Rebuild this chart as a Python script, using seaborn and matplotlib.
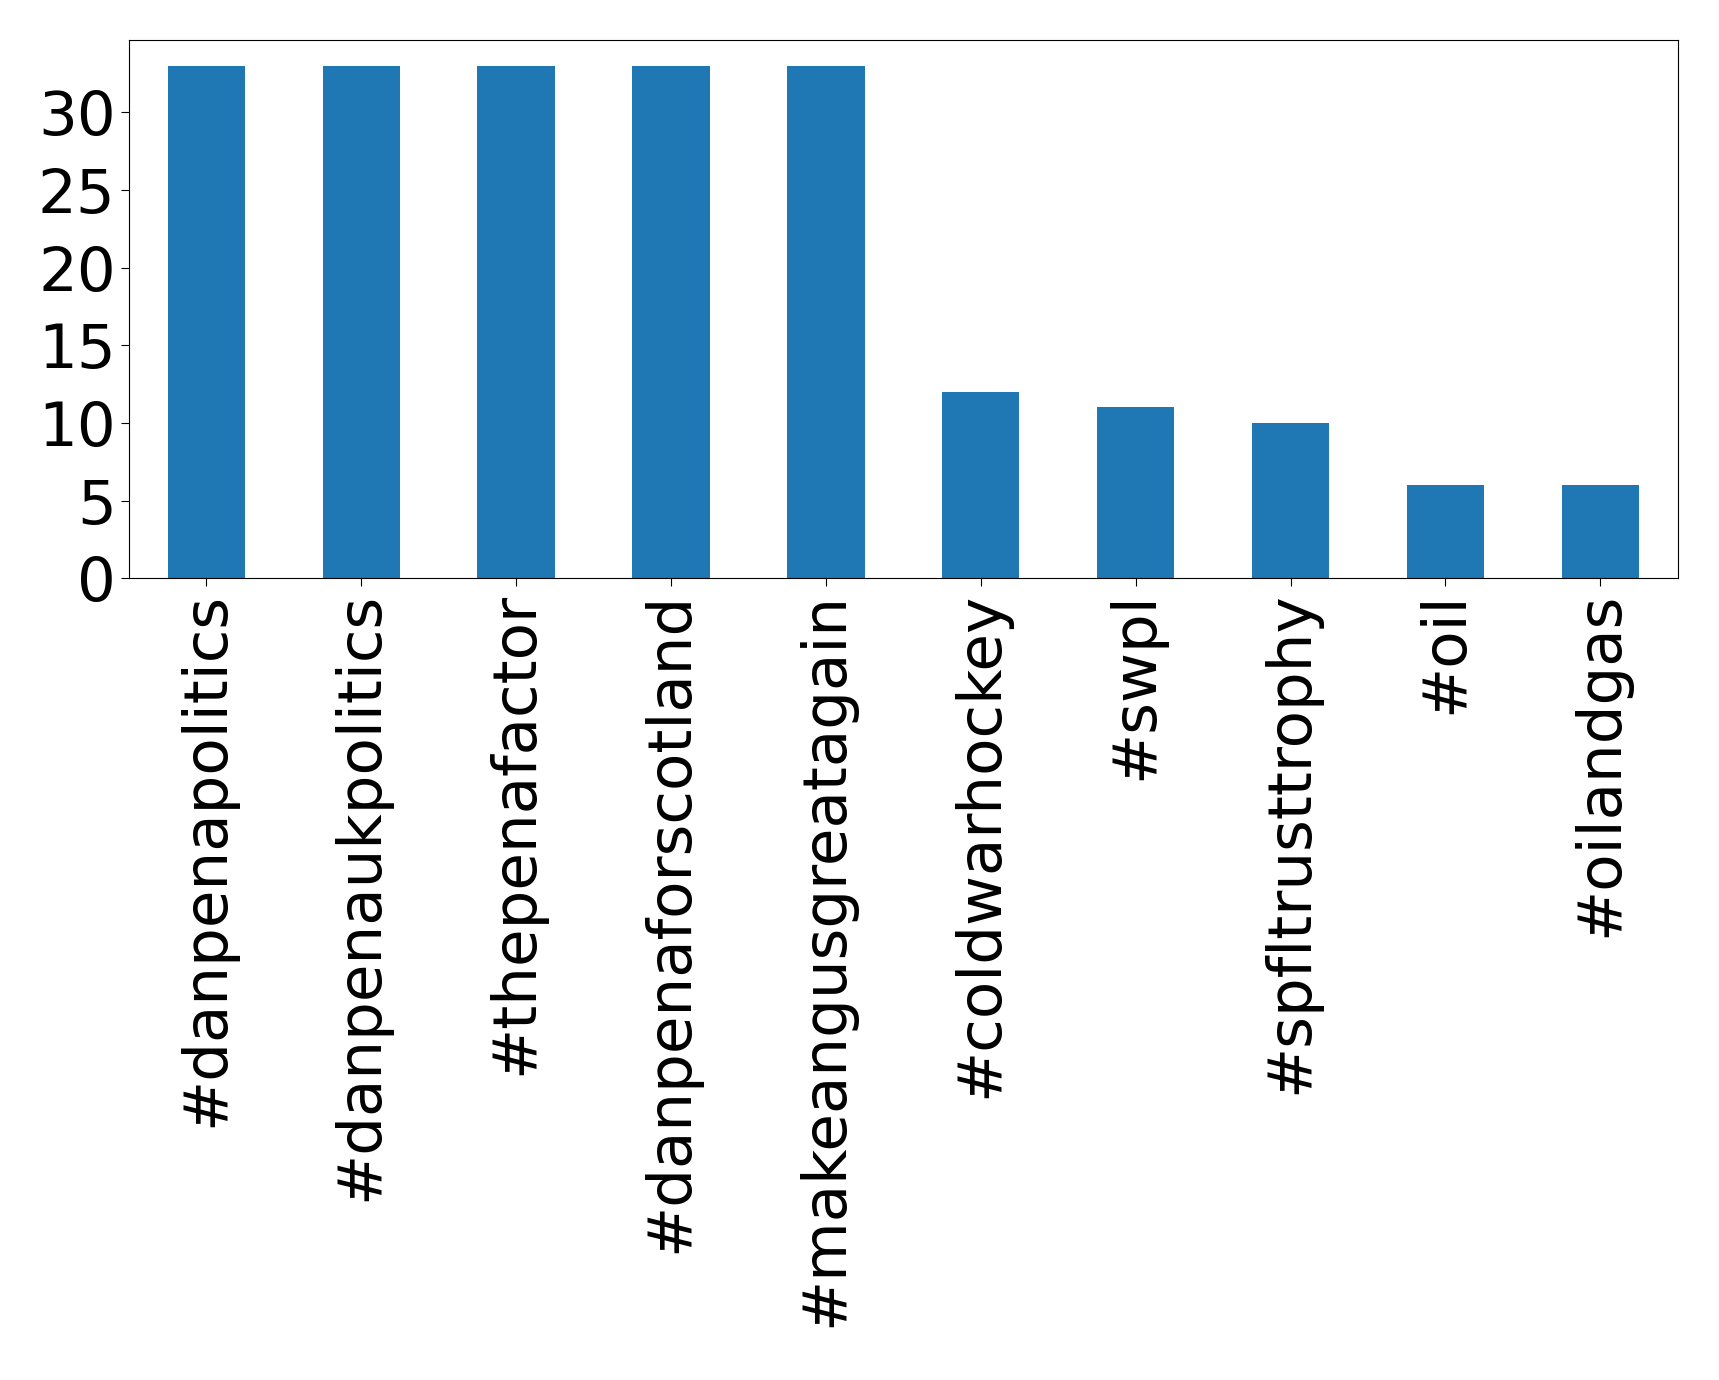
import matplotlib
matplotlib.use("Agg")
import matplotlib.pyplot as plt
import seaborn as sns
import pandas as pd

tags = ["#danpenapolitics", "#danpenaukpolitics", "#thepenafactor", "#danpenaforscotland",
        "#makeangusgreatagain", "#coldwarhockey", "#swpl", "#spfltrusttrophy", "#oil", "#oilandgas"]
counts = [33, 33, 33, 33, 33, 12, 11, 10, 6, 6]

df = pd.DataFrame({"tag": tags, "count": counts})
fig = plt.figure(figsize=(17.19, 13.8), dpi=100)
ax = fig.add_axes([0.075, 0.581, 0.901, 0.39])
sns.barplot(data=df, x="tag", y="count", color="#1f77b4", width=0.5, saturation=1, ax=ax)
ax.set_xlabel("")
ax.set_ylabel("")
ax.set_yticks([0, 5, 10, 15, 20, 25, 30])
ax.tick_params(axis="both", labelsize=44, length=6)
plt.setp(ax.get_xticklabels(), rotation=90)
ax.set_xlim(-0.5, len(tags) - 0.5)
fig.savefig("out.png", dpi=100)
